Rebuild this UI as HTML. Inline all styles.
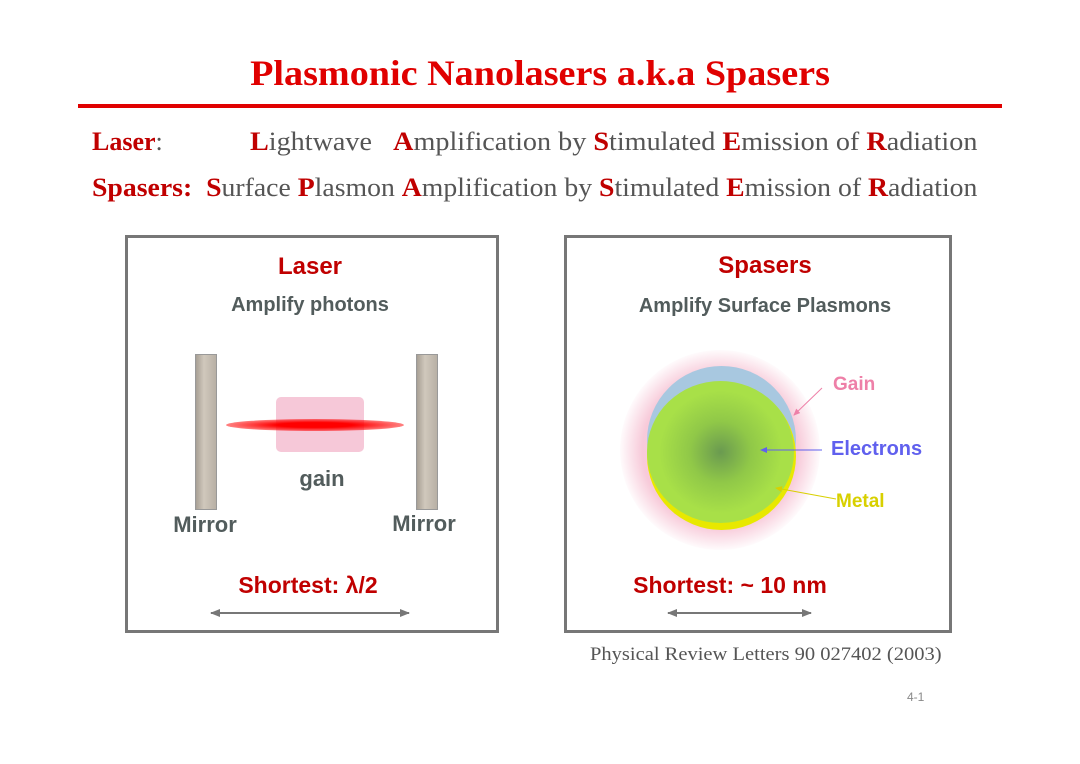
<!DOCTYPE html>
<html><head><meta charset="utf-8"><style>
body{margin:0;width:1080px;height:764px;background:#fff;position:relative;overflow:hidden}
.a{position:absolute;white-space:nowrap}
.s{font-family:"Liberation Serif",serif}
.h{font-family:"Liberation Sans",sans-serif;font-weight:bold}
.r{color:#c00000}
.t{font-size:26px;color:#555;transform-origin:0 0}
.t b{color:#c00000}
.box{position:absolute;border:3px solid #777;box-sizing:border-box}
</style></head><body>
<div class="a s" style="left:0;width:1080px;text-align:center;top:52px;font-size:36px;font-weight:bold;color:#e00000;transform:scaleX(1.06)">Plasmonic Nanolasers a.k.a Spasers</div>
<div class="a" style="left:78px;top:104px;width:924px;height:4px;background:#e00000"></div>
<div class="a s t" style="left:92px;top:127px"><b>Laser</b>:</div>
<div class="a s t" style="left:250px;top:127px;transform:scaleX(1.083)"><b>L</b>ightwave&nbsp;&nbsp; <b>A</b>mplification by <b>S</b>timulated <b>E</b>mission of <b>R</b>adiation</div>
<div class="a s t" style="left:92px;top:173px;transform:scaleX(1.067)"><b>Spasers:</b>&nbsp; <b>S</b>urface <b>P</b>lasmon <b>A</b>mplification by <b>S</b>timulated <b>E</b>mission of <b>R</b>adiation</div>

<div class="box" style="left:125px;top:235px;width:374px;height:398px"></div>
<div class="box" style="left:564px;top:235px;width:388px;height:398px"></div>

<div class="a h r" style="left:210px;width:200px;text-align:center;top:253px;font-size:24px">Laser</div>
<div class="a h" style="left:160px;width:300px;text-align:center;top:294px;font-size:20px;color:#525c5c">Amplify photons</div>
<div class="a" style="left:195px;top:354px;width:20px;height:154px;background:linear-gradient(90deg,#a8a095,#d0c8bc 40%,#b8b0a5);border:1px solid #999"></div>
<div class="a" style="left:416px;top:354px;width:20px;height:154px;background:linear-gradient(90deg,#a8a095,#d0c8bc 40%,#b8b0a5);border:1px solid #999"></div>
<div class="a" style="left:276px;top:397px;width:88px;height:55px;background:#f6c8d8;border-radius:5px"></div>
<div class="a" style="left:226px;top:419px;width:178px;height:12px;border-radius:50%;background:radial-gradient(ellipse at center,#ff0000 30%,rgba(255,0,0,0.5) 70%,rgba(255,0,0,0) 100%)"></div>
<div class="a h" style="left:272px;width:100px;text-align:center;top:466px;font-size:22px;color:#525c5c">gain</div>
<div class="a h" style="left:155px;width:100px;text-align:center;top:512px;font-size:22px;color:#525c5c">Mirror</div>
<div class="a h" style="left:374px;width:100px;text-align:center;top:511px;font-size:22px;color:#525c5c">Mirror</div>
<div class="a h r" style="left:158px;width:300px;text-align:center;top:572px;font-size:23px">Shortest: λ/2</div>

<div class="a h r" style="left:640px;width:250px;text-align:center;top:252px;font-size:24px">Spasers</div>
<div class="a h" style="left:600px;width:330px;text-align:center;top:295px;font-size:20px;color:#525c5c">Amplify Surface Plasmons</div>
<div class="a" style="left:620px;top:350px;width:200px;height:200px;border-radius:50%;background:radial-gradient(circle,rgba(240,150,180,0.5) 55%,rgba(255,200,220,0) 72%)"></div>
<div class="a" style="left:647px;top:366px;width:149px;height:149px;border-radius:50%;background:#a8c8e0"></div>
<div class="a" style="left:647px;top:382px;width:149px;height:148px;border-radius:50%;background:#e8e800"></div>
<div class="a" style="left:647px;top:381px;width:147px;height:142px;border-radius:50%;background:radial-gradient(circle,#6a9a50 0%,#90c848 30%,#a8e048 60%)"></div>
<div class="a h" style="left:833px;top:374px;font-size:19px;color:#ee80a8">Gain</div>
<div class="a h" style="left:831px;top:438px;font-size:20px;color:#6060ee">Electrons</div>
<div class="a h" style="left:836px;top:491px;font-size:19px;color:#d8d000">Metal</div>
<div class="a h r" style="left:580px;width:300px;text-align:center;top:572px;font-size:23px">Shortest: ~ 10 nm</div>

<svg class="a" style="left:0;top:0" width="1080" height="764">
<defs>
<marker id="g" markerUnits="userSpaceOnUse" markerWidth="10" markerHeight="8" refX="9" refY="4" orient="auto-start-reverse"><path d="M0,0L10,4L0,8z" fill="#777"/></marker>
<marker id="p" markerUnits="userSpaceOnUse" markerWidth="7" markerHeight="6" refX="6" refY="3" orient="auto"><path d="M0,0L7,3L0,6z" fill="#ee80a8"/></marker>
<marker id="b" markerUnits="userSpaceOnUse" markerWidth="7" markerHeight="6" refX="6" refY="3" orient="auto"><path d="M0,0L7,3L0,6z" fill="#6060ee"/></marker>
<marker id="y" markerUnits="userSpaceOnUse" markerWidth="7" markerHeight="6" refX="6" refY="3" orient="auto"><path d="M0,0L7,3L0,6z" fill="#d8d000"/></marker>
</defs>
<line x1="211" y1="613" x2="409" y2="613" stroke="#777" stroke-width="2" marker-start="url(#g)" marker-end="url(#g)"/>
<line x1="668" y1="613" x2="811" y2="613" stroke="#777" stroke-width="2" marker-start="url(#g)" marker-end="url(#g)"/>
<line x1="822" y1="388" x2="794" y2="415" stroke="#ee80a8" stroke-width="1" marker-end="url(#p)"/>
<line x1="822" y1="450" x2="761" y2="450" stroke="#6060ee" stroke-width="1" marker-end="url(#b)"/>
<line x1="836" y1="499" x2="776" y2="488" stroke="#d8d000" stroke-width="1" marker-end="url(#y)"/>
</svg>
<div class="a s" style="left:590px;top:644px;font-size:19px;color:#555;transform-origin:0 0;transform:scaleX(1.08)">Physical Review Letters 90 027402 (2003)</div>
<div class="a" style="left:907px;top:690px;font-size:12px;color:#888;font-family:'Liberation Sans',sans-serif">4-1</div>
</body></html>
